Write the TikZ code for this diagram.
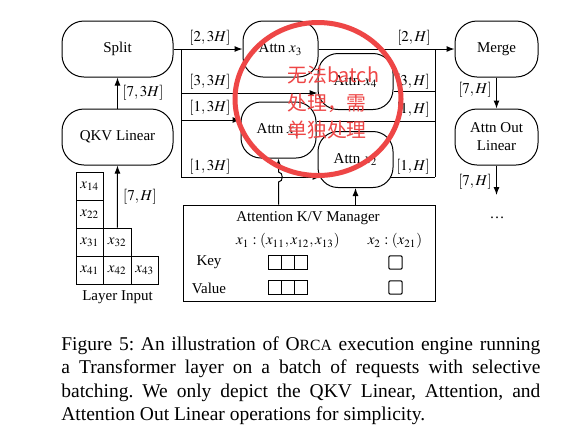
\documentclass[tikz,border=0pt]{standalone}
\usepackage{mathptmx}
\usepackage[no-math]{fontspec}
\setmainfont{Liberation Serif}
\newfontfamily\cjk{Noto Sans CJK SC}
\usetikzlibrary{arrows.meta,calc}
\definecolor{annot}{RGB}{238,70,70}
\frenchspacing
\begin{document}
\begin{tikzpicture}[x=0.5pt,y=-0.5pt,
  font=\fontsize{7.5}{9}\selectfont,
  every node/.style={inner sep=0pt},
  op/.style={draw, line width=0.5pt, rounded corners=11pt, fill=white, align=center, minimum height=28pt},
  attn/.style={draw, line width=0.5pt, rounded corners=10pt, fill=white, minimum width=37.5pt, minimum height=28pt},
  cell/.style={draw, line width=0.5pt, minimum width=13.75pt, minimum height=14pt},
  sq/.style={draw, line width=0.5pt, minimum size=6.65pt},
  wire/.style={line width=0.5pt},
  conn/.style={line width=0.5pt, -{Latex[length=4pt,width=3pt]}},
  note/.style={annot, font=\cjk\fontsize{9.9}{13.75}\selectfont, align=left}
]
\useasboundingbox (0,0) rectangle (583,447);
\fill[white] (0,0) rectangle (583,447);

% operation nodes
\node[op, minimum width=55.5pt] (split) at (117.5,49) {Split};
\node[op, minimum width=55.5pt] (qkv) at (117.5,137) {QKV Linear};
\node[op, minimum width=41.5pt] (merge) at (496.5,49) {Merge};
\node[op, minimum width=41.5pt] (aout) at (496.5,137) {Attn Out\\Linear};

\node[attn] (a3) at (280.5,49) {Attn $x_3$};
\node[attn] (a4) at (355.5,81.5) {Attn $x_4$};
\node[attn] (a1) at (278.5,130) {Attn $x_1$};
\node[attn] (a2) at (355.5,159.5) {Attn $x_2$};

% layer input
\node[cell] (c14) at (89.75,186) {$x_{14}$};
\node[cell] (c22) at (89.75,214) {$x_{22}$};
\node[cell] (c31) at (89.75,242) {$x_{31}$};
\node[cell] (c32) at (117.25,242) {$x_{32}$};
\node[cell] (c41) at (89.75,270) {$x_{41}$};
\node[cell] (c42) at (117.25,270) {$x_{42}$};
\node[cell] (c43) at (144.75,270) {$x_{43}$};
\node (lin) at (117.5,297) {Layer Input};

\draw[conn] (c32.north) -- (qkv.south);
\node (l7h) at (140,197) {$[7,H]$};
\draw[conn] (qkv.north) -- (split.south);
\node (l73h) at (143,93) {$[7,3H]$};

% left bus
\coordinate (b1) at (181,49);
\coordinate (b2) at (181,93);
\coordinate (b3) at (181,120);
\coordinate (b4) at (181,177);
\draw[conn] (split.east) -- (a3.west);
\draw[wire] (b1) -- (b4);
\draw[conn] (b2) -- (b2 -| a4.west);
\draw[conn] (b3) -- (b3 -| a1.west);
\draw[conn] (b4) -- ($(b4 -| a2.west)+(3,0)$);
\node (li1) at (210,38) {$[2,3H]$};
\node (li2) at (210,82) {$[3,3H]$};
\node (li3) at (210,108) {$[1,3H]$};
\node (li4) at (210,167) {$[1,3H]$};

% right bus
\coordinate (r1) at (435,49);
\coordinate (r2) at (435,91);
\coordinate (r3) at (435,121);
\coordinate (r4) at (435,177);
\draw[conn] (a3.east) -- (merge.west);
\draw[wire] (r1) -- (r4);
\draw[wire] (a4.east |- r2) -- (r2);
\draw[wire] (a1.east |- r3) -- (r3);
\draw[wire] ($(a2.east |- r4)+(-3.5,0)$) -- (r4);
\node (lo1) at (414,38) {$[2,H]$};
\node (lo2) at (413,82) {$[3,H]$};
\node (lo3) at (413,110) {$[1,H]$};
\node (lo4) at (413,167) {$[1,H]$};

% merge side
\draw[conn] (merge.south) -- (aout.north);
\node (lm) at (475,90) {$[7,H]$};
\coordinate (dn) at (496.5,195);
\draw[conn] (aout.south) -- (dn);
\node (lo) at (475,182) {$[7,H]$};
\node (dots) at (497,218) {\dots};

% KV manager
\node[draw, line width=0.5pt, minimum width=126pt, minimum height=48pt] (kv) at (309,253) {};
\node (kvt) at (308,218) {Attention K/V Manager};
\node (x1l) at (288,241) {$x_1:(x_{11},x_{12},x_{13})$};
\node (x2l) at (395,241) {$x_2:(x_{21})$};
\node (key) at (209,262) {Key};
\node (val) at (209,288) {Value};
\node[sq] (k1) at (274.7,262.5) {};
\node[sq] (k2) at (288,262.5) {};
\node[sq] (k3) at (301.3,262.5) {};
\node[sq] (v1) at (274.7,287.5) {};
\node[sq] (v2) at (288,287.5) {};
\node[sq] (v3) at (301.3,287.5) {};
\node[sq, rounded corners=0.6pt] (k4) at (395.5,262.5) {};
\node[sq, rounded corners=0.6pt] (v4) at (395.5,287.5) {};

\draw[conn] (a1.south |- kv.north) -- ($(a1.south |- b4)+(0,5)$)
  .. controls +(5,0) and +(5,0) .. ($(a1.south |- b4)+(0,-5)$) -- (a1.south);
\draw[conn] (a2.south |- kv.north) -- (a2.south);

% caption
\node[anchor=north west, text width=239.5pt, align=justify,
  font=\fontsize{9.75}{11.75}\selectfont] (cap) at (61,336)
  {Figure 5: An illustration of O{\fontsize{7.8}{11.75}\selectfont RCA} execution engine running\linebreak
   a Transformer layer on a batch of requests with selective\linebreak
   batching. We only depict the QKV Linear, Attention, and\linebreak
   Attention Out Linear operations for simplicity.};

% red annotation
\draw[annot, line width=2.5pt] (318,99) ellipse [x radius=41.5pt, y radius=38.25pt];
\node[note, anchor=west] (nt) at (287,102.5) {无法batch\\处理，需\\单独处理};
\end{tikzpicture}
\end{document}
